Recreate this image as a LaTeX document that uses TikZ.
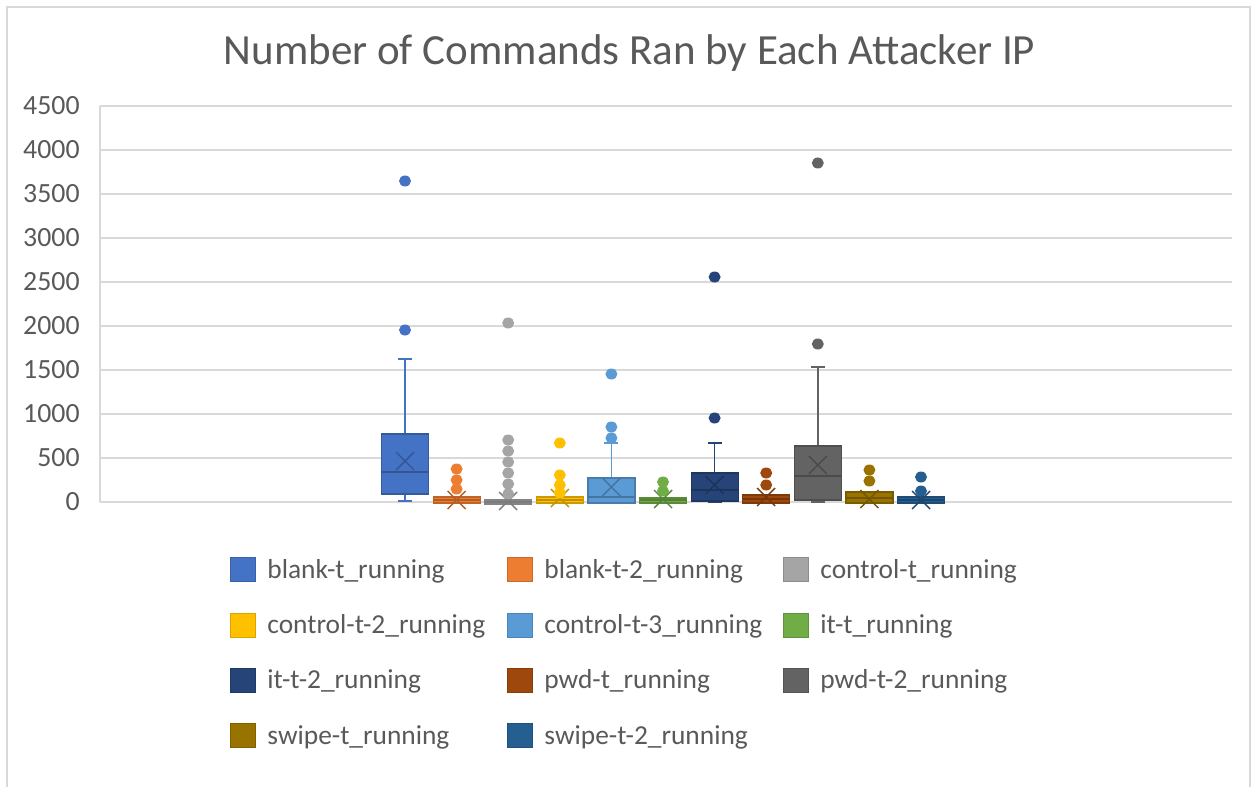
\documentclass[tikz,border=0pt]{standalone}
\usepackage{fontspec}
\setmainfont{Carlito}
\definecolor{gridc}{HTML}{D9D9D9}
\definecolor{txtc}{HTML}{595959}
\definecolor{sA}{HTML}{4472C4}
\definecolor{sB}{HTML}{ED7D31}
\definecolor{sC}{HTML}{A5A5A5}
\definecolor{sD}{HTML}{FFC000}
\definecolor{sE}{HTML}{5B9BD5}
\definecolor{sF}{HTML}{70AD47}
\definecolor{sG}{HTML}{264478}
\definecolor{sH}{HTML}{9E480E}
\definecolor{sI}{HTML}{636363}
\definecolor{sJ}{HTML}{997300}
\definecolor{sK}{HTML}{255E91}
\tikzset{
  grid line/.style={draw=gridc, line width=0.85pt},
  frame line/.style={draw=gridc, line width=0.7pt},
  tick label/.style={text=txtc, font=\fontsize{13.9}{16}\selectfont, anchor=base east, inner sep=0pt},
  legend label/.style={text=txtc, font=\fontsize{13.7}{16}\selectfont, anchor=base west, inner sep=0pt},
  title label/.style={text=txtc, font=\fontsize{21.5}{25}\selectfont, anchor=base, inner sep=0pt},
  swatch/.style={fill=#1, draw=#1!85!black, line width=0.4pt},
  whisker/.style={draw=#1, line width=0.8pt},
  boxbody/.style={fill=#1, draw=#1!80!black, line width=0.6pt},
  boxmark/.style={draw=#1!75!black, line width=0.7pt},
  outlier/.style={fill=#1}
}
% one box-and-whisker series (pixel coordinates, y downwards):
% #1 colour, #2 centre x, #3 box top, #4 box bottom, #5 median,
% #6 mean, #7 upper whisker, #8 lower whisker, #9 outliers
\newcommand\whbox[9]{%
  \draw[whisker=#1] (#2,#3) -- (#2,#7);
  \draw[whisker=#1] ({#2-7},#7) -- ({#2+7},#7);
  \draw[whisker=#1] (#2,#4) -- (#2,#8);
  \draw[whisker=#1] ({#2-7},#8) -- ({#2+7},#8);
  \draw[boxbody=#1] ({#2-23.5},#3) rectangle ({#2+23.5},#4);
  \draw[boxmark=#1] ({#2-23.5},#5) -- ({#2+23.5},#5);
  \draw[boxmark=#1] ({#2-9},{#6-9}) -- ({#2+9},{#6+9});
  \draw[boxmark=#1] ({#2-9},{#6+9}) -- ({#2+9},{#6-9});
  \foreach \o in {#9} {\fill[outlier=#1] (#2,\o) ellipse[x radius=6, y radius=5.5];}
}
\begin{document}
\begin{tikzpicture}[x=0.5pt,y=-0.5pt]
\useasboundingbox (0,0) rectangle (1251,786);

% chart frame
\draw[frame line] (7,800) -- (7,7) -- (1250,7) -- (1250,800);

% title
\node[title label] (title) at (629.5,65) {Number of Commands Ran by Each Attacker IP};

% value grid and labels
\foreach \v [count=\k from 0] in {0,500,1000,1500,2000,2500,3000,3500,4000,4500} {
  \pgfmathsetmacro\gy{502.3-44.07*\k}
  \draw[grid line] (100,\gy) -- (1232,\gy);
  \node[tick label] (tick\k) at (80,{\gy+8.5}) {\v};
}
\draw[grid line] (100,105.7) -- (100,502.3);

% series
\whbox{sA}{405}{434}{494}{472}{461}{359}{501}{181,330}
\whbox{sB}{456.6}{497}{503}{500}{500}{497}{503}{469,480,489}
\whbox{sC}{508.2}{500}{504}{502}{501}{500}{504}{323,440,451,462,473,484,494}
\whbox{sD}{559.8}{497}{503}{500}{498}{497}{503}{443,475,485,493}
\whbox{sE}{611.4}{478}{503}{497}{487}{443}{503}{374,427,438}
\whbox{sF}{663}{498}{503}{500}{499}{498}{503}{482,491}
\whbox{sG}{714.6}{473}{501}{490}{485}{443}{502}{277,418}
\whbox{sH}{766.2}{495}{503}{499}{497}{495}{503}{473,485}
\whbox{sI}{817.8}{446}{500}{476}{465}{367}{502}{163,344}
\whbox{sJ}{869.4}{492}{503}{498}{499}{492}{503}{470,481}
\whbox{sK}{921}{497}{503}{500}{500}{497}{503}{477,491}

% legend
\foreach \c/\t/\lx/\ly [count=\n] in {
  sA/blank-t\_running/230/569.7,
  sB/blank-t-2\_running/507/569.7,
  sC/control-t\_running/783/569.7,
  sD/control-t-2\_running/230/625,
  sE/control-t-3\_running/507/625,
  sF/it-t\_running/783/625,
  sG/it-t-2\_running/230/680.3,
  sH/pwd-t\_running/507/680.3,
  sI/pwd-t-2\_running/783/680.3,
  sJ/swipe-t\_running/230/735.6,
  sK/swipe-t-2\_running/507/735.6} {
  \draw[swatch=\c] (\lx,{\ly-12}) rectangle ({\lx+25},{\ly+12});
  \node[legend label] (leg\n) at ({\lx+37},{\ly+8.5}) {\t};
}
\end{tikzpicture}
\end{document}
